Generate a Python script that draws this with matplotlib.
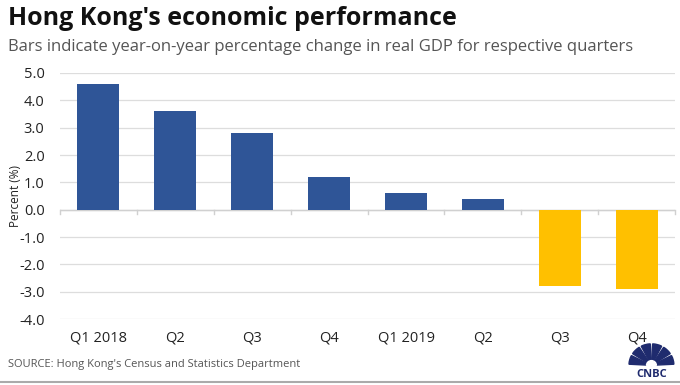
import numpy as np
import matplotlib.pyplot as plt
from matplotlib.patches import Wedge

# quarterly real GDP, year-on-year % change
quarters = ["Q1 2018", "Q2", "Q3", "Q4", "Q1 2019", "Q2", "Q3", "Q4"]
gdp_change = [4.6, 3.6, 2.8, 1.2, 0.6, 0.4, -2.8, -2.9]
y_ticks = [5.0, 4.0, 3.0, 2.0, 1.0, 0.0, -1.0, -2.0, -3.0, -4.0]

plt.rcParams['font.family'] = ['Open Sans', 'DejaVu Sans']

fig = plt.figure(figsize=(6.8, 3.85), dpi=100)
ax = fig.add_axes([0.088, 0.1714, 0.905, 0.639])

colors = ['#2F5597' if v >= 0 else '#FFC000' for v in gdp_change]
x = np.arange(len(quarters))
ax.bar(x, gdp_change, width=0.55, color=colors, zorder=3)

ax.set_xlim(-0.5, len(quarters) - 0.5)
ax.set_ylim(-4, 5)
ax.set_yticks(y_ticks)
ax.set_yticklabels([f"{t:.1f}" for t in y_ticks], fontsize=10.5, color='#222222')
ax.tick_params(axis='y', length=0, pad=11)
ax.grid(axis='y', color='#DDDDDD', linewidth=0.9, zorder=0)
ax.set_xticks(x)
ax.set_xticklabels(quarters, fontsize=10.5, color='#222222')
ax.tick_params(axis='x', length=0, pad=8)
for s in ax.spines.values():
    s.set_visible(False)
ax.axhline(0, color='#D0D0D0', linewidth=1.0, zorder=2)
# small tick marks between categories on the zero line
for b in np.arange(-0.5, len(quarters), 1.0):
    ax.plot([b, b], [0, -0.15], color='#D0D0D0', linewidth=1.0, zorder=2, clip_on=False)
ax.set_ylabel("Percent (%)", fontsize=8.5, color='#222222', labelpad=-2)

fig.text(0.012, 0.953, "Hong Kong's economic performance", fontsize=18,
         fontweight='bold', color='#111111', va='center', ha='left')
fig.text(0.012, 0.878, "Bars indicate year-on-year percentage change in real GDP for respective quarters",
         fontsize=12, color='#555555', va='center', ha='left')
fig.text(0.012, 0.054, "SOURCE: Hong Kong's Census and Statistics Department",
         fontsize=8, color='#555555', va='center', ha='left')

# bottom rule
fig.add_artist(plt.Line2D([0, 1], [0.008, 0.008], color='#AAAAAA', linewidth=1.5))

# CNBC peacock logo
logo = fig.add_axes([0.92, 0.012, 0.076, 0.096])
logo.set_xlim(-1.15, 1.15)
logo.set_ylim(-0.7, 1.02)
logo.axis('off')
for i in range(6):
    a0 = 180 - i * 30
    logo.add_patch(Wedge((0, 0), 1.0, a0 - 27, a0 - 3, color='#1F2B6E'))
logo.add_patch(Wedge((0, 0), 0.22, 0, 180, color='white'))
logo.text(0, -0.42, "CNBC", fontsize=8, fontweight='bold', color='#1F2B6E',
          ha='center', va='center')

fig.savefig("out.png", dpi=100)
